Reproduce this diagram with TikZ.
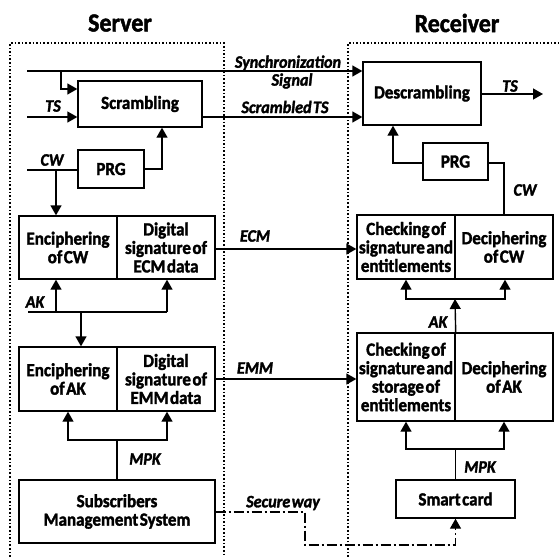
\documentclass[tikz,border=0pt]{standalone}
\usepackage{fontspec}
\setmainfont{Carlito}[WordSpace=0.4, FakeStretch=0.92, BoldFeatures={FakeBold=1.8}, BoldItalicFeatures={FakeBold=1.8}]
\usetikzlibrary{arrows.meta}
\tikzstyle{block}=[draw, line width=1.4pt, inner sep=0pt, align=center, font=\bfseries\fontsize{18.5}{18.5}\selectfont]
\tikzstyle{lbl}=[inner sep=0pt, font=\bfseries\itshape\fontsize{17.5}{17.5}\selectfont]
\tikzstyle{title}=[inner sep=0pt, font=\bfseries\fontsize{26}{26}\selectfont]
\tikzstyle{area}=[dotted, line width=1.6pt]
\tikzstyle{link}=[line width=1.4pt]
\tikzstyle{flow}=[line width=1.4pt, -{Triangle[length=10pt,width=11pt]}]
\tikzstyle{secure}=[line width=1.4pt, dash pattern=on 10pt off 3pt on 2pt off 3pt, -{Triangle[length=10pt,width=11pt]}]

\begin{document}
\begin{tikzpicture}[x=1pt, y=-1pt]
    \useasboundingbox (0,0) rectangle (560,557);
    % server and receiver areas
    \draw[area] (10,600) -- (10,43) -- (224,43) -- (224,600);
    \draw[area] (348,600) -- (348,43) -- (600,43);
    \node[title] (server) at (120,23) {Server};
    \node[title] (receiver) at (457,23) {Receiver};

    % server blocks
    \node[block, minimum width=124, minimum height=46] (scr) at (140,104) {Scrambling};
    \node[block, minimum width=66, minimum height=38] (prgS) at (111,169) {PRG};
    \node[block, minimum width=98, minimum height=63] (encCW) at (68,247.5) {Enciphering\\of CW};
    \node[block, minimum width=98, minimum height=63] (sigECM) at (166,247.5) {Digital\\signature of\\ECM data};
    \node[block, minimum width=98, minimum height=64] (encAK) at (68,379) {Enciphering\\of AK};
    \node[block, minimum width=98, minimum height=64] (sigEMM) at (166,379) {Digital\\signature of\\EMM data};
    \node[block, minimum width=196, minimum height=63] (sms) at (117,511.5) {Subscribers\\Management System};

    % receiver blocks
    \node[block, minimum width=118, minimum height=63] (desc) at (422,93.5) {Descrambling};
    \node[block, minimum width=65, minimum height=37] (prgR) at (455.5,161.5) {PRG};
    \node[block, minimum width=98, minimum height=64] (chkECM) at (406,247) {Checking of\\signature and\\entitlements};
    \node[block, minimum width=98, minimum height=64] (decCW) at (504,247) {Deciphering\\of CW};
    \node[block, minimum width=98, minimum height=88] (chkEMM) at (406,377) {Checking of\\signature and\\storage of\\entitlements};
    \node[block, minimum width=98, minimum height=88] (decAK) at (504,377) {Deciphering\\of AK};
    \node[block, minimum width=119, minimum height=38] (card) at (455.5,499) {Smart card};

    % free ends
    \coordinate (syncin) at (27,71);
    \coordinate (syncbr) at (61,71);
    \coordinate (synccorner) at (61,89);
    \coordinate (tsin) at (27,117);
    \coordinate (cwin) at (27,170);
    \coordinate (cwbr) at (56,170);
    \coordinate (prgup) at (162,169);
    \coordinate (akin) at (28,312);
    \coordinate (akend) at (167,312);
    \coordinate (akdown) at (81,312);
    \coordinate (mpkS) at (117,440);
    \coordinate (mpkSl) at (68,440);
    \coordinate (mpkSr) at (167,440);
    \coordinate (wayA) at (305,512);
    \coordinate (wayB) at (305,545);
    \coordinate (tsout) at (543,94);
    \coordinate (prgRl) at (393,163);
    \coordinate (prgRr) at (504,163);
    \coordinate (akR) at (455,299);
    \coordinate (akRl) at (406,299);
    \coordinate (akRr) at (505,299);
    \coordinate (mpkR) at (455.5,449);
    \coordinate (mpkRl) at (406,449);
    \coordinate (mpkRr) at (504,449);
    \coordinate (ecmline) at (0,249);

    % server connectors
    \draw[flow] (syncin) -- (syncin -| desc.west);
    \draw[flow] (syncbr) -- (synccorner) -- (synccorner -| scr.west);
    \draw[flow] (tsin) -- (tsin -| scr.west);
    \draw[flow] (scr.east |- tsin) -- (desc.west |- tsin);
    \draw[link] (cwin) -- (cwin -| prgS.west);
    \draw[flow] (cwbr) -- (cwbr |- encCW.north);
    \draw[flow] (prgS.east |- prgup) -- (prgup) -- (prgup |- scr.south);
    \draw[flow] (sigECM.east |- ecmline) -- (chkECM.west |- ecmline);
    \draw[link] (akin) -- (akend);
    \draw[flow] (akin -| cwbr) -- (cwbr |- encCW.south);
    \draw[flow] (akend) -- (akend |- sigECM.south);
    \draw[flow] (akdown) -- (akdown |- encAK.north);
    \draw[flow] (sigEMM.east) -- (sigEMM.east -| chkEMM.west);
    \draw[link] (sms.north) -- (mpkS);
    \draw[flow] (mpkS) -- (mpkSl) -- (mpkSl |- encAK.south);
    \draw[flow] (mpkS) -- (mpkSr) -- (mpkSr |- sigEMM.south);
    \draw[secure] (sms.east |- wayA) -- (wayA) -- (wayB) -- (wayB -| card.south) -- (card.south);

    % receiver connectors
    \draw[flow] (desc.east |- tsout) -- (tsout);
    \draw[flow] (prgR.west |- prgRl) -- (prgRl) -- (prgRl |- desc.south);
    \draw[link] (prgR.east |- prgRr) -- (prgRr) -- (prgRr |- decCW.north);
    \draw[flow] (chkEMM.north east) -- (akR);
    \draw[flow] (akR) -- (akRl) -- (akRl |- chkECM.south);
    \draw[flow] (akR) -- (akRr) -- (akRr |- decCW.south);
    \draw[link] (card.north) -- (mpkR);
    \draw[flow] (mpkR) -- (mpkRl) -- (mpkRl |- chkEMM.south);
    \draw[flow] (mpkR) -- (mpkRr) -- (mpkRr |- decAK.south);

    % connector labels
    \node[lbl] (lsync) at (288,63) {Synchronization};
    \node[lbl] (lsig) at (292,81) {Signal};
    \node[lbl] (lscr) at (285,107) {Scrambled TS};
    \node[lbl] (lts) at (53,106) {TS};
    \node[lbl] (lcw) at (52,160) {CW};
    \node[lbl] (lecm) at (255,236) {ECM};
    \node[lbl] (lemm) at (255,368) {EMM};
    \node[lbl] (lak) at (35,302) {AK};
    \node[lbl] (lmpk) at (145,459) {MPK};
    \node[lbl] (lway) at (283,503) {Secure way};
    \node[lbl] (ltsR) at (510,86) {TS};
    \node[lbl] (lcwR) at (525,190) {CW};
    \node[lbl] (lakR) at (438,322) {AK};
    \node[lbl] (lmpkR) at (480,467) {MPK};
\end{tikzpicture}
\end{document}
